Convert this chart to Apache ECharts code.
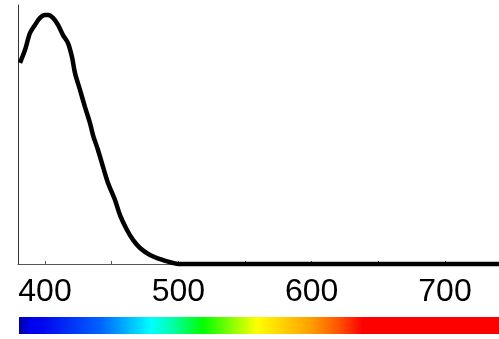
<!DOCTYPE html>
<html><head><meta charset="utf-8">
<script src="https://cdn.jsdelivr.net/npm/echarts@6/dist/echarts.min.js"></script>
<style>html,body{margin:0;padding:0;background:#fff}#c{width:499px;height:339px}</style>
</head><body><div id="c"></div>
<script>
const wavelengths = [381.25,385,388.75,392.5,396.25,400,402.25,406,409.75,413.5,417.25,420.25,422.5,426.25,430,433.75,436,439.75,443.5,447.25,452.5,456.25,461.5,466,471.25,478.75,488.5,496,500,740.5];
const intensity = [0.777,0.826,0.892,0.923,0.950,0.961,0.961,0.950,0.923,0.884,0.853,0.799,0.737,0.672,0.606,0.544,0.498,0.440,0.375,0.313,0.247,0.189,0.131,0.093,0.062,0.035,0.015,0.004,0,0];
const tickValues = [400,450,500,550,600,650,700];
const labelValues = [400,500,600,700];
const spectrumWl = [380.5,389,399,441,479.5,494,518.5,559,599,621,638,740.5];
const spectrumColors = ['#0000a0','#0000f0','#0008f0','#0060ff','#00ffff','#00ffb4','#00ff00','#ffff00','#ffa000','#ff5000','#ff0000','#ff0000'];

const xMin = 379.75, xMax = 740.5;
const chart = echarts.init(document.getElementById('c'));
const stops = spectrumWl.map((w,i)=>({offset: Math.min(1,Math.max(0,(w - 380.5)/(xMax - 380.5))), color: spectrumColors[i]}));
chart.setOption({
  animation:false,
  grid:{left:18,right:0,top:5,bottom:75},
  xAxis:{type:'value',min:xMin,max:xMax,
    axisLine:{show:true,lineStyle:{color:'#555',width:1}},
    axisTick:{show:true,inside:true,length:3,customValues:tickValues,lineStyle:{color:'#555'}},
    axisLabel:{customValues:labelValues,fontFamily:'Liberation Sans',fontSize:32,color:'#000',margin:12},
    splitLine:{show:false}},
  yAxis:{type:'value',min:0,max:1,
    axisLine:{show:true,lineStyle:{color:'#333',width:1}},
    axisTick:{show:false},axisLabel:{show:false},splitLine:{show:false}},
  series:[{type:'line',data:wavelengths.map((w,i)=>[w,intensity[i]]),smooth:0.3,showSymbol:false,
    lineStyle:{color:'#000',width:4.5},clip:false}],
  graphic:[{type:'rect',left:19,top:317,shape:{width:480,height:17},
    style:{fill:new echarts.graphic.LinearGradient(0,0,1,0,stops)}}]
});
</script></body></html>
